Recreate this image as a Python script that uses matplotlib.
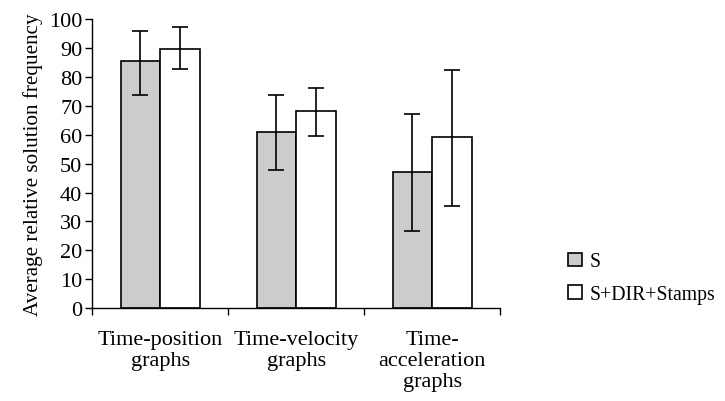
import numpy as np
import matplotlib as mpl
mpl.use('Agg')
import matplotlib.pyplot as plt

plt.rcParams['font.family'] = ['Liberation Serif', 'DejaVu Serif']

categories = ['Time-position\ngraphs', 'Time-velocity\ngraphs', 'Time-\nacceleration\ngraphs']
series_names = ['S', 'S+DIR+Stamps']
s_vals = [85.4, 60.9, 47.2]
s_err_hi = [96.0, 73.8, 67.1]
s_err_lo = [73.8, 47.8, 26.7]
d_vals = [89.7, 68.2, 59.3]
d_err_hi = [97.1, 76.1, 82.5]
d_err_lo = [82.9, 59.6, 35.2]

fig = plt.figure(figsize=(7.25, 4.02), dpi=100)
ax = fig.add_axes([0.127, 0.231, 0.563, 0.719])

x = np.arange(len(categories))
w = 0.29

def errs(vals, lo, hi):
    vals = np.array(vals)
    return [vals - np.array(lo), np.array(hi) - vals]

ax.bar(x - w/2, s_vals, w, color='#cccccc', edgecolor='black', linewidth=1.2,
       label=series_names[0], zorder=2)
ax.bar(x + w/2, d_vals, w, color='white', edgecolor='black', linewidth=1.2,
       label=series_names[1], zorder=2)
ax.errorbar(x - w/2, s_vals, yerr=errs(s_vals, s_err_lo, s_err_hi), fmt='none',
            ecolor='black', elinewidth=1.2, capsize=6, capthick=1.2, zorder=3)
ax.errorbar(x + w/2, d_vals, yerr=errs(d_vals, d_err_lo, d_err_hi), fmt='none',
            ecolor='black', elinewidth=1.2, capsize=6, capthick=1.2, zorder=3)

ax.set_xlim(-0.5, len(categories) - 0.5)
ax.set_ylim(0, 100)
ax.set_yticks(np.arange(0, 101, 10))
ax.tick_params(axis='y', labelsize=16, direction='out', length=5, width=1, pad=2)

# category separators as ticks, labels as minor ticks at centres
ax.set_xticks(np.arange(-0.5, len(categories), 1.0))
ax.set_xticklabels([])
ax.tick_params(axis='x', which='major', direction='out', length=5, width=1)
ax.set_xticks(x, minor=True)
ax.set_xticklabels(categories, minor=True, fontsize=16, linespacing=1.12)
ax.tick_params(axis='x', which='minor', length=0, pad=16)

for side in ['top', 'right']:
    ax.spines[side].set_visible(False)
ax.spines['left'].set_linewidth(1)
ax.spines['bottom'].set_linewidth(1)

ax.set_ylabel('Average relative solution frequency', fontsize=15.2, labelpad=4)

fig.legend(loc='center left', bbox_to_anchor=(0.759, 0.305), frameon=False,
           fontsize=14.2, handlelength=0.7, handleheight=0.7, handletextpad=0.4,
           labelspacing=0.7)

fig.savefig('out.png', dpi=100)
